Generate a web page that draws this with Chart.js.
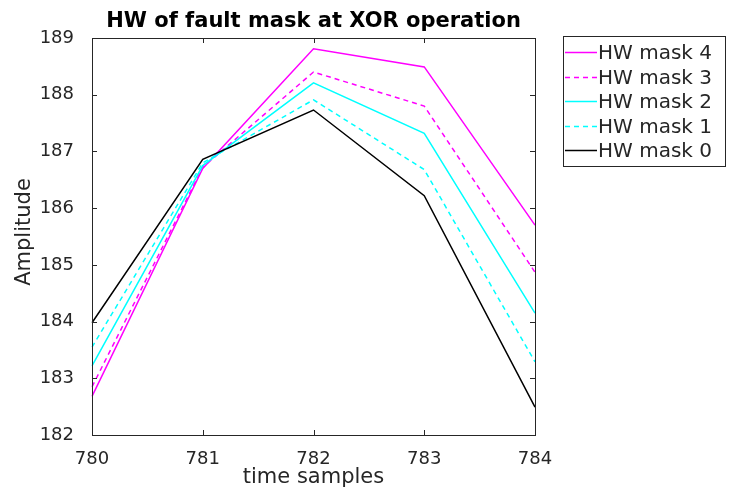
<!DOCTYPE html>
<html>
<head>
<meta charset="utf-8">
<script src="https://cdn.jsdelivr.net/npm/chart.js@4"></script>
<style>
  html, body { margin: 0; padding: 0; background: #fff; }
  #wrap { position: relative; width: 745px; height: 490px; }
</style>
</head>
<body>
<div id="wrap"><canvas id="hwChart"></canvas></div>
<script>
// samples on the x axis
const samples = ["780", "781", "782", "783", "784"];
const yTicks = [182, 183, 184, 185, 186, 187, 188, 189];

// amplitude per HW of the fault mask
const mask4 = [182.68, 186.70, 188.81, 188.49, 185.70];
const mask3 = [182.85, 186.72, 188.40, 187.80, 184.87];
const mask2 = [183.22, 186.75, 188.21, 187.32, 184.15];
const mask1 = [183.55, 186.80, 187.91, 186.68, 183.29];
const mask0 = [183.98, 186.86, 187.73, 186.22, 182.49];

const FONT = "'DejaVu Sans', Arial, sans-serif";
const INK = "#262626";

// title, axis labels, box with inward ticks, legend
const matlabLook = {
  id: "matlabLook",
  afterDraw(chart) {
    const ctx = chart.ctx;
    const a = chart.chartArea;
    const xs = chart.scales.x;
    const ys = chart.scales.y;
    ctx.save();

    // frame
    ctx.strokeStyle = INK;
    ctx.lineWidth = 1;
    ctx.strokeRect(Math.round(a.left) + 0.5, Math.round(a.top) + 0.5,
      Math.round(a.right - a.left), Math.round(a.bottom - a.top));

    // inward ticks
    const tl = 5;
    ctx.beginPath();
    xs.ticks.forEach((t, i) => {
      const x = Math.round(xs.getPixelForTick(i)) + 0.5;
      ctx.moveTo(x, a.bottom); ctx.lineTo(x, a.bottom - tl);
      ctx.moveTo(x, a.top); ctx.lineTo(x, a.top + tl);
    });
    ys.ticks.forEach((t, i) => {
      const y = Math.round(ys.getPixelForTick(i)) + 0.5;
      ctx.moveTo(a.left, y); ctx.lineTo(a.left + tl, y);
      ctx.moveTo(a.right, y); ctx.lineTo(a.right - tl, y);
    });
    ctx.stroke();

    // title
    ctx.fillStyle = "#000";
    ctx.font = "bold 21px " + FONT;
    ctx.textAlign = "center";
    ctx.textBaseline = "alphabetic";
    ctx.fillText("HW of fault mask at XOR operation", (a.left + a.right) / 2, 27);

    // axis labels
    ctx.fillStyle = INK;
    ctx.font = "21px " + FONT;
    ctx.textBaseline = "middle";
    ctx.fillText("time samples", (a.left + a.right) / 2, 478);
    ctx.save();
    ctx.translate(25, 232);
    ctx.rotate(-Math.PI / 2);
    ctx.fillText("Amplitude", 0, 0);
    ctx.restore();

    // legend
    const lx = 563, ly = 36, lw = 162, lh = 130;
    ctx.fillStyle = "#fff";
    ctx.fillRect(lx, ly, lw, lh);
    ctx.strokeStyle = INK;
    ctx.strokeRect(lx + 0.5, ly + 0.5, lw, lh);
    ctx.font = "20px " + FONT;
    ctx.textAlign = "left";
    const order = [4, 3, 2, 1, 0];
    order.forEach((k, row) => {
      const ds = chart.data.datasets.find(d => d.label === "HW mask " + k);
      const y = Math.round(ly + 16 + row * 24.5) + 0.5;
      ctx.strokeStyle = ds.borderColor;
      ctx.lineWidth = 1.5;
      ctx.setLineDash(ds.borderDash || []);
      ctx.beginPath();
      ctx.moveTo(lx + 2, y);
      ctx.lineTo(lx + 34, y);
      ctx.stroke();
      ctx.setLineDash([]);
      ctx.fillStyle = INK;
      ctx.fillText(ds.label, lx + 35, y + 1);
    });
    ctx.restore();
  }
};

function line(label, data, color, dashed) {
  return {
    label: label,
    data: data,
    borderColor: color,
    backgroundColor: color,
    borderWidth: 1.5,
    borderDash: dashed ? [5, 4] : [],
    pointRadius: 0,
    tension: 0,
    fill: false
  };
}

new Chart(document.getElementById("hwChart"), {
  type: "line",
  data: {
    labels: samples,
    datasets: [
      line("HW mask 0", mask0, "#000000", false),
      line("HW mask 1", mask1, "#00ffff", true),
      line("HW mask 2", mask2, "#00ffff", false),
      line("HW mask 3", mask3, "#ff00ff", true),
      line("HW mask 4", mask4, "#ff00ff", false)
    ]
  },
  options: {
    responsive: true,
    maintainAspectRatio: false,
    animation: false,
    layout: { padding: { left: 0, right: 210, top: 38, bottom: 0 } },
    plugins: {
      legend: { display: false },
      title: { display: false },
      tooltip: { enabled: false }
    },
    scales: {
      x: {
        offset: false,
        grid: { display: false },
        border: { display: false },
        ticks: {
          color: INK,
          font: { family: FONT, size: 18 },
          padding: 6,
          maxRotation: 0
        },
        afterFit(scale) { scale.height = 55; }
      },
      y: {
        min: yTicks[0],
        max: yTicks[yTicks.length - 1],
        grid: { display: false },
        border: { display: false },
        afterBuildTicks(scale) { scale.ticks = yTicks.map(v => ({ value: v })); },
        ticks: {
          color: INK,
          font: { family: FONT, size: 18 },
          padding: 10
        },
        afterFit(scale) { scale.width = 92; }
      }
    }
  },
  plugins: [matlabLook]
});
</script>
</body>
</html>
